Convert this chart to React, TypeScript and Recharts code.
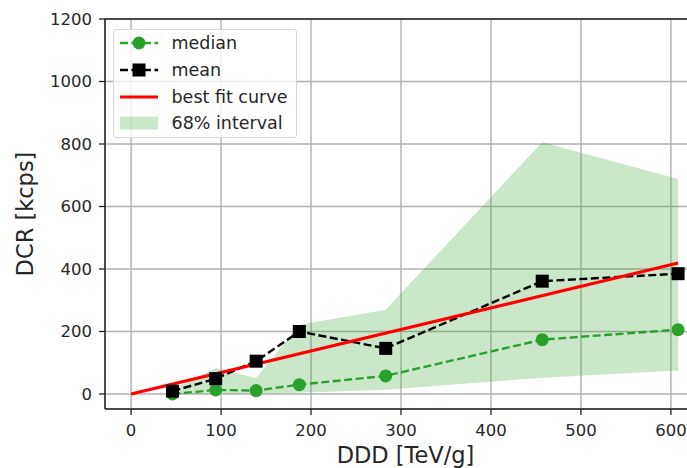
import {
  Area,
  CartesianGrid,
  ComposedChart,
  Line,
  ReferenceLine,
  XAxis,
  YAxis,
} from "recharts";

const binCenters = [46, 94, 139, 187, 283, 457, 608];
const medianDcr = [0, 13, 11, 30, 58, 174, 206];
const meanDcr = [9, 49, 105, 200, 146, 361, 385];
const intervalLow = [0, 1, 2, 4, 14, 52, 75];
const intervalHigh = [15, 83, 51, 222, 270, 806, 688];
const fitDdd = [0, 608];
const fitDcr = [0, 419];
const xTicks = [0, 100, 200, 300, 400, 500, 600];
const yTicks = [0, 200, 400, 600, 800, 1000, 1200];

const GREEN = "#2ca02c";
const RED = "#ff0000";
const BLACK = "#000000";
const INK = "#262626";
const FONT = "'DejaVu Sans', sans-serif";

// one table for the composed chart; fit line only has its two end points
const chartData = [
  { ddd: fitDdd[0], fit: fitDcr[0] },
  ...binCenters.map((ddd, i) => ({
    ddd,
    median: medianDcr[i],
    mean: meanDcr[i],
    interval: [intervalLow[i], intervalHigh[i]],
    ...(ddd === fitDdd[1] ? { fit: fitDcr[1] } : {}),
  })),
];

const CircleDot = (props: any) => {
  const { cx, cy, key } = props;
  if (cx == null || cy == null) return null;
  return <circle key={key} cx={cx} cy={cy} r={6.5} fill={GREEN} />;
};

const SquareDot = (props: any) => {
  const { cx, cy, key } = props;
  if (cx == null || cy == null) return null;
  return <rect key={key} x={cx - 6.5} y={cy - 6.5} width={13} height={13} fill={BLACK} />;
};

const YTitle = (props: any) => {
  const vb = props.viewBox || { x: 0, y: 19, height: 390 };
  const cx = vb.x + 33;
  const cy = vb.y + vb.height / 2;
  return (
    <text
      x={cx}
      y={cy}
      transform={`rotate(-90 ${cx} ${cy})`}
      textAnchor="middle"
      fontSize={22.5}
      fontFamily={FONT}
      fill={INK}
    >
      DCR [kcps]
    </text>
  );
};

const legendItems = [
  { label: "median", kind: "circle" },
  { label: "mean", kind: "square" },
  { label: "best fit curve", kind: "fit" },
  { label: "68% interval", kind: "patch" },
];

const LegendHandle = ({ kind }: { kind: string }) => (
  <svg width={38} height={20} style={{ display: "block" }}>
    {kind === "circle" && (
      <>
        <line x1={0} y1={10} x2={38} y2={10} stroke={GREEN} strokeWidth={2.4} strokeDasharray="8 3.5" />
        <circle cx={19} cy={10} r={6.5} fill={GREEN} />
      </>
    )}
    {kind === "square" && (
      <>
        <line x1={0} y1={10} x2={38} y2={10} stroke={BLACK} strokeWidth={2.4} strokeDasharray="8 3.5" />
        <rect x={12.5} y={3.5} width={13} height={13} fill={BLACK} />
      </>
    )}
    {kind === "fit" && <line x1={0} y1={10} x2={38} y2={10} stroke={RED} strokeWidth={3.2} />}
    {kind === "patch" && <rect x={0} y={3.5} width={38} height={13} fill={GREEN} fillOpacity={0.25} />}
  </svg>
);

export default function App() {
  const tickStyle = { fontSize: 16.5, fontFamily: FONT, fill: INK };
  return (
    <div
      style={{
        position: "absolute",
        left: 0,
        top: 0,
        width: 687,
        height: 468,
        overflow: "hidden",
        background: "#fff",
        fontFamily: FONT,
      }}
    >
      <ComposedChart
        width={706}
        height={468}
        data={chartData}
        margin={{ top: 19, right: 0, bottom: 0, left: 0 }}
      >
        <CartesianGrid stroke="#b0b0b0" strokeWidth={1.4} />
        <Area
          type="linear"
          dataKey="interval"
          fill={GREEN}
          fillOpacity={0.25}
          stroke="none"
          dot={false}
          activeDot={false}
          isAnimationActive={false}
        />
        <Line
          type="linear"
          dataKey="median"
          stroke={GREEN}
          strokeWidth={2.4}
          strokeDasharray="8 3.5"
          dot={CircleDot}
          activeDot={false}
          isAnimationActive={false}
        />
        <Line
          type="linear"
          dataKey="mean"
          stroke={BLACK}
          strokeWidth={2.4}
          strokeDasharray="8 3.5"
          dot={SquareDot}
          activeDot={false}
          isAnimationActive={false}
        />
        <Line
          type="linear"
          dataKey="fit"
          stroke={RED}
          strokeWidth={3.2}
          dot={false}
          activeDot={false}
          connectNulls
          isAnimationActive={false}
        />
        <ReferenceLine y={1200} stroke="#222" strokeWidth={1.5} />
        <XAxis
          dataKey="ddd"
          type="number"
          domain={[-29, 639]}
          ticks={xTicks}
          allowDataOverflow
          height={59}
          tickSize={6}
          tickMargin={9}
          axisLine={{ stroke: "#222", strokeWidth: 1.5 }}
          tickLine={{ stroke: "#222", strokeWidth: 1.3 }}
          tick={tickStyle}
          label={{
            value: "DDD [TeV/g]",
            position: "insideBottom",
            offset: 5,
            fontSize: 22.5,
            fontFamily: FONT,
            fill: INK,
          }}
        />
        <YAxis
          type="number"
          domain={[-48, 1200]}
          ticks={yTicks}
          allowDataOverflow
          width={105}
          tickSize={6}
          tickMargin={7}
          axisLine={{ stroke: "#222", strokeWidth: 1.5 }}
          tickLine={{ stroke: "#222", strokeWidth: 1.3 }}
          tick={tickStyle}
          label={{ content: YTitle }}
        />
      </ComposedChart>
      <div
        style={{
          position: "absolute",
          left: 113,
          top: 29,
          width: 184,
          height: 109,
          boxSizing: "border-box",
          border: "1px solid #d6d6d6",
          borderRadius: 3,
          background: "rgba(255,255,255,0.8)",
        }}
      >
        {legendItems.map((item) => (
          <div
            key={item.label}
            style={{
              height: 26.7,
              display: "flex",
              alignItems: "center",
              paddingLeft: 6,
            }}
          >
            <LegendHandle kind={item.kind} />
            <span style={{ marginLeft: 13.5, fontSize: 17.5, color: INK, whiteSpace: "nowrap" }}>
              {item.label}
            </span>
          </div>
        ))}
      </div>
    </div>
  );
}
